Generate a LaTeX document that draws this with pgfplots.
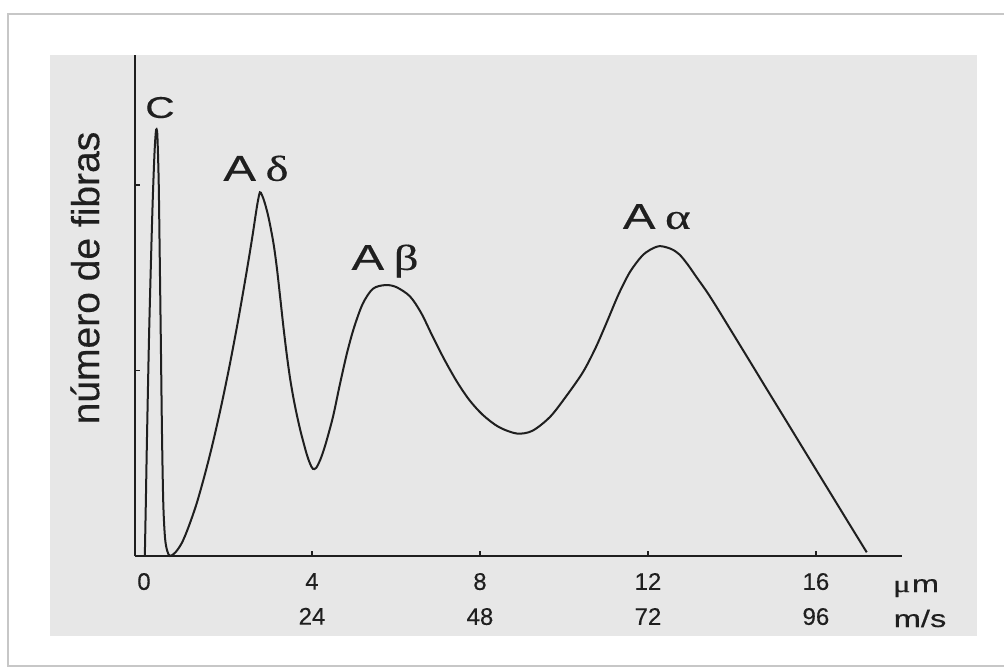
\documentclass[border=0pt]{standalone}
\usepackage{fontspec}
\setmainfont[FakeBold=0.3]{Liberation Sans}
\newfontfamily\grk[FakeBold=0.3]{Liberation Serif}
\usepackage{graphicx}
\usepackage{pgfplots}
\pgfplotsset{compat=1.18}
\definecolor{panel}{gray}{0.905}
\definecolor{ink}{gray}{0.12}
\definecolor{frame}{gray}{0.78}
% horizontally widened lettering
\newcommand\wide[1]{\scalebox{1.36}[1]{#1}}

\begin{document}
\begin{tikzpicture}
\begin{scope}[x=0.5pt,y=-0.5pt]
  \useasboundingbox (0,0) rectangle (1004,668);
  \fill[white] (0,0) rectangle (1004,668);
  \draw[frame, line width=1.2pt] (1010,14) -- (8,14) -- (8,666) -- (1010,666);
  \fill[panel] (50,55) rectangle (977,636);
  \node[rotate=90, text=ink, font=\fontsize{19.5}{19.5}\selectfont] at (85,278) {número de fibras};
  \node[anchor=base, text=ink, font=\fontsize{12}{14}\selectfont] at (916,592) {\wide{{\grk μ}\hspace{0.5pt}m}};
  \node[anchor=base, text=ink, font=\fontsize{12}{14}\selectfont] at (920,627) {\wide{m/s}};
\end{scope}
\begin{axis}[
  at={(67.5pt,-278pt)}, anchor=south west,
  scale only axis, width=383.5pt, height=250.5pt,
  xmin=-0.214, xmax=18.05, ymin=0, ymax=2.70,
  axis lines=left,
  axis line style={-, line width=1pt, ink},
  clip=false,
  tick align=inside,
  major tick length=2.5pt,
  tick style={line width=0.8pt, ink},
  xtick={4,8,12,16},
  xticklabels={4\\24, 8\\48, 12\\72, 16\\96},
  extra x ticks={0},
  extra x tick labels={0\\\phantom{0}},
  extra x tick style={major tick length=0pt},
  xticklabel style={align=center, text=ink, font=\fontsize{12}{17.5}\selectfont, yshift=-5pt},
  ytick={1,2},
  yticklabels={},
]
% fibre-count distribution over fibre diameter
\addplot[ink, line width=1pt, smooth, tension=0.5] coordinates {
  (0.02,0.00) (0.045,0.30) (0.07,0.62) (0.12,1.18) (0.17,1.62) (0.21,1.93)
  (0.25,2.17) (0.28,2.28) (0.30,2.30) (0.32,2.26) (0.35,2.02) (0.37,1.70)
  (0.40,1.18) (0.43,0.64) (0.46,0.28) (0.50,0.10) (0.55,0.03) (0.62,0.00)
  (0.75,0.02) (0.90,0.07) (1.05,0.15) (1.25,0.28) (1.45,0.44)
  (1.64,0.61) (1.85,0.82) (2.05,1.04) (2.25,1.28) (2.45,1.54)
  (2.58,1.72) (2.66,1.84) (2.71,1.91) (2.76,1.96) (2.81,1.945)
  (2.88,1.90) (2.97,1.82) (3.08,1.69) (3.16,1.56) (3.24,1.40)
  (3.32,1.235) (3.40,1.085) (3.48,0.955) (3.56,0.85) (3.64,0.76)
  (3.72,0.68) (3.80,0.61) (3.88,0.545) (3.95,0.50) (4.02,0.47)
  (4.10,0.475) (4.20,0.52) (4.32,0.60) (4.50,0.75) (4.66,0.92)
  (4.83,1.09) (5.00,1.23) (5.21,1.36) (5.45,1.44) (5.74,1.46)
  (6.00,1.45) (6.33,1.40) (6.60,1.31) (6.88,1.18) (7.15,1.06)
  (7.45,0.94) (7.75,0.84) (8.07,0.76) (8.45,0.695) (8.88,0.66)
  (9.25,0.675) (9.67,0.75) (10.05,0.86) (10.45,0.99) (10.75,1.12)
  (11.02,1.26) (11.30,1.41) (11.57,1.53) (11.85,1.615) (12.05,1.65)
  (12.28,1.67) (12.55,1.655) (12.75,1.625) (12.95,1.57) (13.15,1.505)
  (13.40,1.425) (13.64,1.34)
  (14.03,1.196) (14.43,1.048) (14.82,0.903) (15.21,0.759) (15.62,0.607)
  (16.02,0.459) (16.41,0.315) (16.81,0.167) (17.21,0.02)
};
\node[anchor=base, text=ink, font=\fontsize{15}{15}\selectfont] at (axis cs:0.38,2.361) {\wide{C}};
\node[anchor=base, text=ink, font=\fontsize{18}{18}\selectfont] at (axis cs:2.667,2.022) {\wide{A\hspace{3.5pt}{\grk δ}}};
\node[anchor=base, text=ink, font=\fontsize{18}{18}\selectfont] at (axis cs:5.74,1.542) {\wide{A\hspace{3.5pt}{\grk β}}};
\node[anchor=base, text=ink, font=\fontsize{18}{18}\selectfont] at (axis cs:12.21,1.763) {\wide{A\hspace{3.5pt}{\grk α}}};
\end{axis}
\end{tikzpicture}
\end{document}
